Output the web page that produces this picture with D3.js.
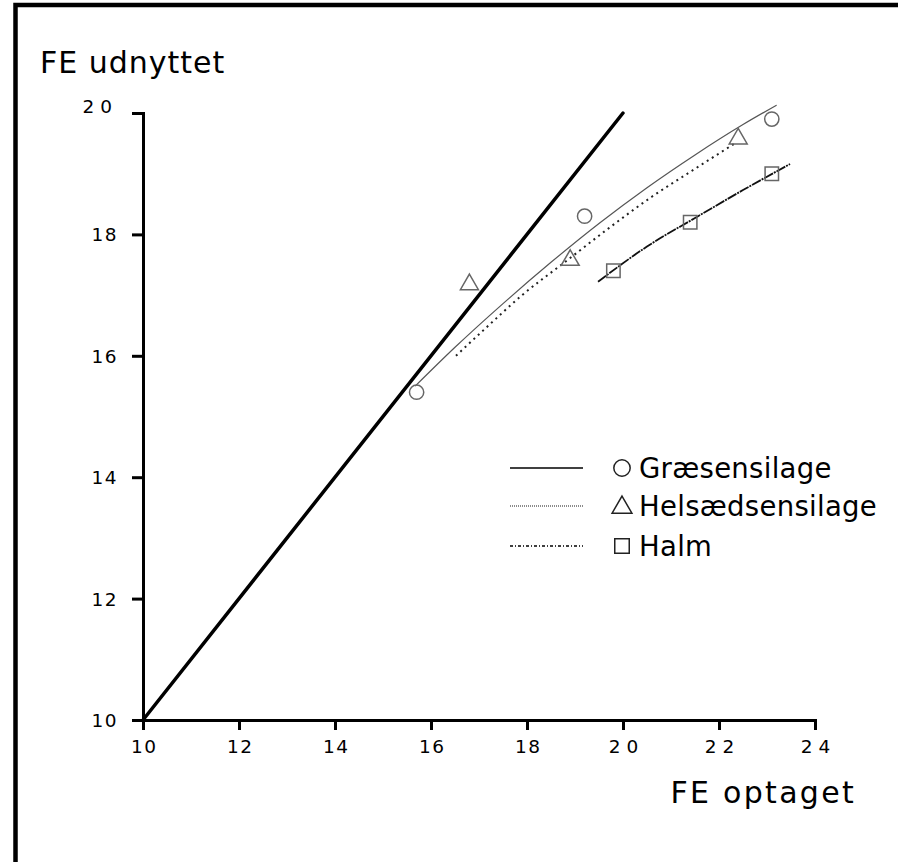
<!DOCTYPE html>
<html><head><meta charset="utf-8">
<script src="https://cdn.jsdelivr.net/npm/d3@7"></script>
<style>body{margin:0;background:#fff}svg{display:block}</style>
</head><body>
<script>
// ---- data ----
const xTicks = [10, 12, 14, 16, 18, 20, 22, 24];
const yTicks = [10, 12, 14, 16, 18, 20];
const xLabel = "FE optaget";
const yLabel = "FE udnyttet";
const seriesNames = ["Græsensilage", "Helsædsensilage", "Halm"];
// reference line (FE optaget = FE udnyttet)
const refX = [10, 20];
const refY = [10, 20];
// observed points
const graesX = [15.7, 19.2, 23.1];
const graesY = [15.4, 18.3, 19.9];
const helsX = [16.8, 18.9, 22.4];
const helsY = [17.2, 17.6, 19.6];
const halmX = [19.8, 21.4, 23.1];
const halmY = [17.4, 18.2, 19.0];
// fitted curves
const graesFitX = [15.67, 16.5, 17.5, 18.5, 19.5, 20.5, 21.5, 22.5, 23.2];
const graesFitY = [15.5, 16.14, 16.86, 17.54, 18.18, 18.77, 19.31, 19.81, 20.13];
const helsFitX = [16.52, 17.2, 17.9, 18.8, 19.7, 20.6, 21.5, 22.33];
const helsFitY = [16.0, 16.5, 17.0, 17.55, 18.1, 18.62, 19.08, 19.5];
const halmFitX = [19.48, 20.5, 21.5, 22.5, 23.48];
const halmFitY = [17.22, 17.8, 18.27, 18.73, 19.16];

const W = 898, H = 862;
const svg = d3.select("body").append("svg").attr("width", W).attr("height", H);
const font = "'DejaVu Sans', Verdana, sans-serif";

// frame
svg.append("rect").attr("x", 15.5).attr("y", 5).attr("width", W + 40).attr("height", H + 40)
  .attr("fill", "none").attr("stroke", "#000").attr("stroke-width", 4.5);

const x = d3.scaleLinear().domain([10, 24]).range([143, 815]);
const y = d3.scaleLinear().domain([10, 20]).range([720, 113]);

// axes
const gx = svg.append("g").attr("transform", `translate(0,${y(10)})`)
  .call(d3.axisBottom(x).tickValues(xTicks).tickSize(10).tickSizeOuter(10).tickFormat(d3.format("d")));
const gy = svg.append("g").attr("transform", `translate(${x(10)},0)`)
  .call(d3.axisLeft(y).tickValues(yTicks).tickSize(11).tickSizeOuter(11).tickFormat(d3.format("d")));
[gx, gy].forEach(g => {
  g.selectAll("path, line").attr("stroke", "#000").attr("stroke-width", 3);
  g.selectAll("text").attr("font-family", font).attr("font-size", 18.5).attr("fill", "#000")
    .attr("letter-spacing", d => d >= 20 ? 6 : 1.5);
});
gx.selectAll("text").attr("y", 27).attr("dy", "0.35em").attr("dx", d => d >= 20 ? 3 : 0.75);
gy.selectAll("text").attr("x", d => d >= 20 ? -25 : -25).attr("dy", d => d === 20 ? "-0.05em" : "0.35em");

// axis titles
svg.append("text").attr("x", 40).attr("y", 73).text(yLabel)
  .attr("font-family", font).attr("font-size", 30).attr("letter-spacing", 1).attr("fill", "#000");
svg.append("text").attr("x", 856).attr("y", 803).attr("text-anchor", "end").text(xLabel)
  .attr("font-family", font).attr("font-size", 30).attr("letter-spacing", 2.3).attr("fill", "#000");

const line = d3.line().x(d => x(d[0])).y(d => y(d[1])).curve(d3.curveMonotoneX);
const zip = (a, b) => a.map((v, i) => [v, b[i]]);

// reference line
svg.append("path").attr("d", line(zip(refX, refY))).attr("fill", "none")
  .attr("stroke", "#000").attr("stroke-width", 3.5).attr("stroke-linecap", "round");

const styles = [
  {stroke: "#555", width: 1.2, dash: null},
  {stroke: "#222", width: 2, dash: "2,4"},
  {stroke: "#111", width: 1.8, dash: "10,1,2,1"}
];
const fits = [zip(graesFitX, graesFitY), zip(helsFitX, helsFitY), zip(halmFitX, halmFitY)];
fits.forEach((f, i) => {
  svg.append("path").attr("d", line(f)).attr("fill", "none")
    .attr("stroke", styles[i].stroke).attr("stroke-width", styles[i].width)
    .attr("stroke-dasharray", styles[i].dash);
});

const symbols = [d3.symbolCircle, d3.symbolTriangle, d3.symbolSquare];
const sizes = [160, 140, 180];
const pts = [zip(graesX, graesY), zip(helsX, helsY), zip(halmX, halmY)];
pts.forEach((p, i) => {
  svg.append("g").selectAll("path").data(p).join("path")
    .attr("transform", d => `translate(${x(d[0])},${y(d[1]) + (i === 1 ? 1.5 : 0)})`)
    .attr("d", d3.symbol(symbols[i], sizes[i]))
    .attr("fill", "none").attr("stroke", "#666").attr("stroke-width", 1.5);
});

// legend
const legY = [468, 506, 546];
const leg = svg.append("g");
seriesNames.forEach((n, i) => {
  leg.append("line").attr("x1", 510).attr("x2", 583).attr("y1", legY[i]).attr("y2", legY[i])
    .attr("stroke", i === 1 ? "#666" : "#000").attr("stroke-width", 1.3)
    .attr("stroke-dasharray", i === 0 ? null : (i === 1 ? "1,1" : "3,2,1,2"));
  leg.append("path").attr("transform", `translate(622,${legY[i] + (i === 1 ? 1.5 : 0)})`)
    .attr("d", d3.symbol(symbols[i], [210, 170, 210][i]))
    .attr("fill", "none").attr("stroke", "#222").attr("stroke-width", 1.5);
  leg.append("text").attr("x", 639).attr("y", legY[i]).attr("dy", "0.35em").text(n)
    .attr("font-family", font).attr("font-size", 27.5).attr("letter-spacing", 0.3).attr("fill", "#000");
});
</script>
</body></html>
